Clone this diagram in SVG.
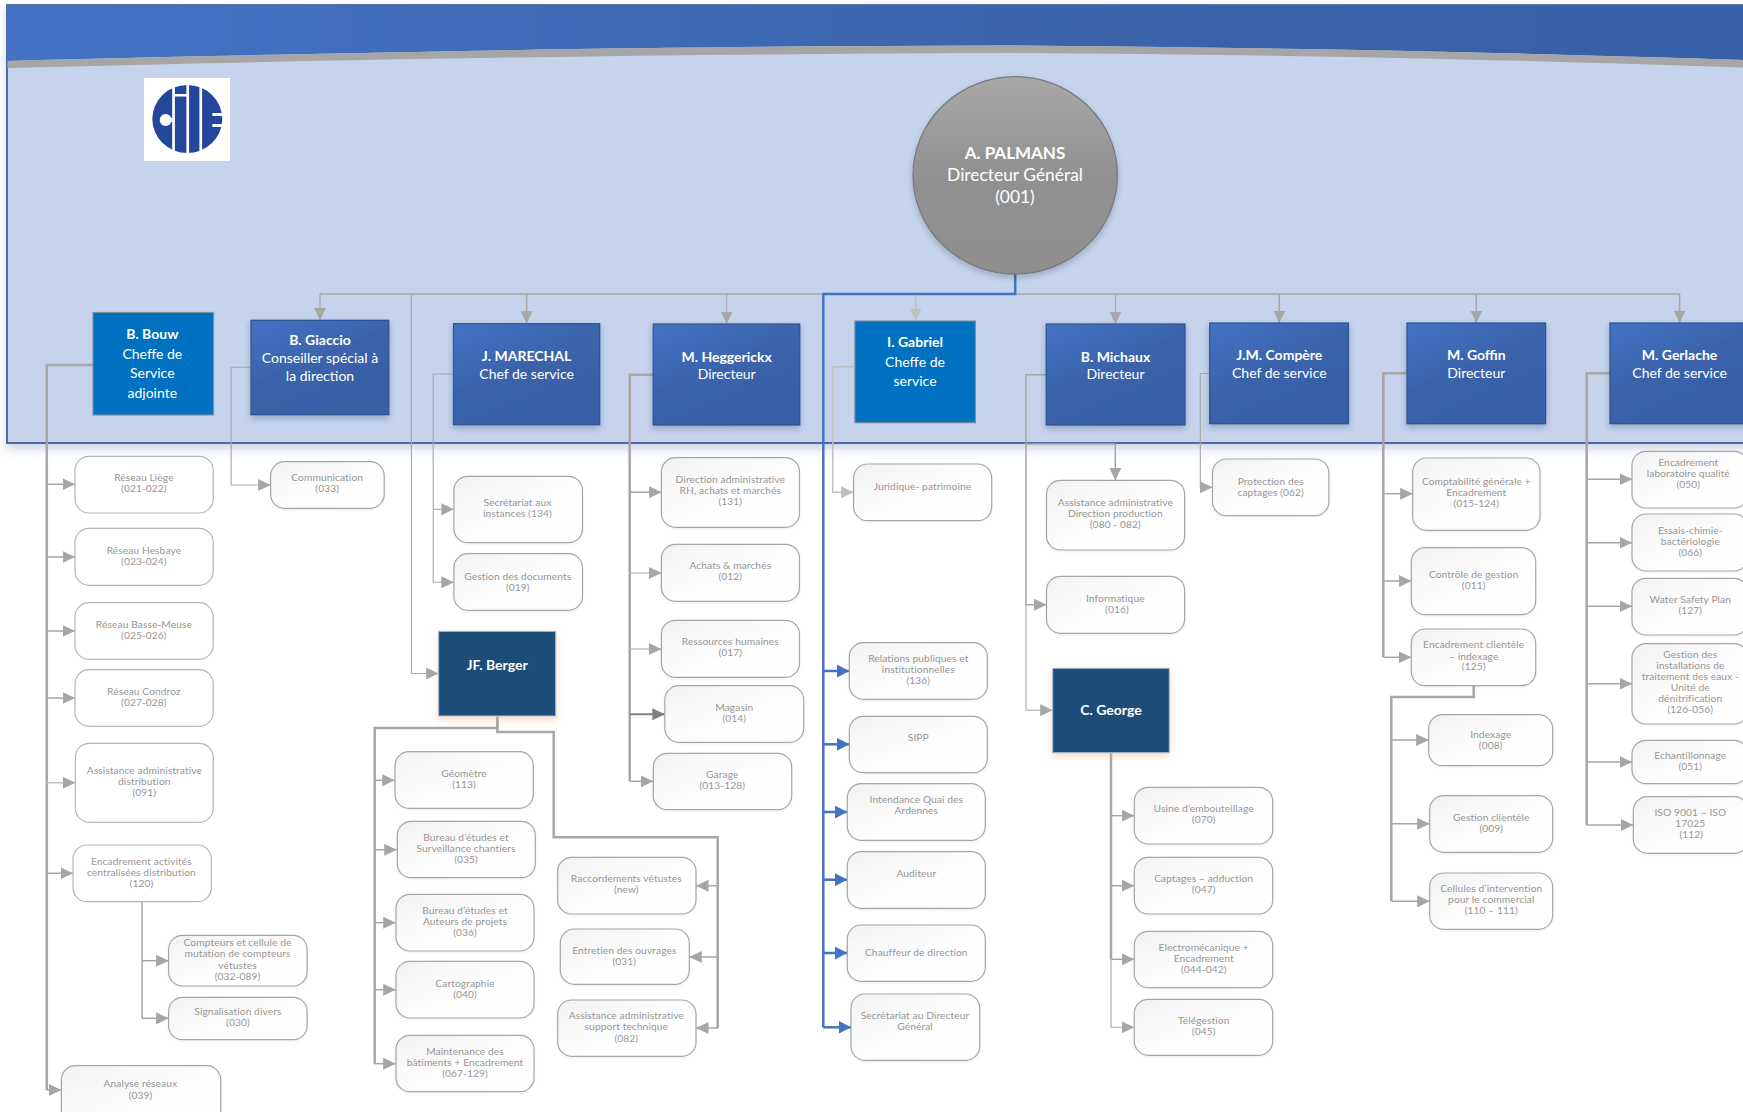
<svg xmlns="http://www.w3.org/2000/svg" width="1743" height="1112" viewBox="0 0 1743 1112">
<style>
text{font-family:"Lato","Liberation Sans",sans-serif;text-anchor:middle;dominant-baseline:central;transform:translateY(-1px)}
.t{font-size:10.2px;fill:#969696;letter-spacing:.1px}
.h{font-size:14px;fill:#fff}
.hb{font-size:14px;fill:#fff;font-weight:700}
.c1{font-size:17.4px;fill:#fff}
.c1b{font-size:17px;fill:#fff;font-weight:700}
.box{fill:url(#gb);stroke:#a6a6a6;stroke-width:1.2;filter:url(#s3)}
.boxw{fill:#fff;stroke:#b5b5b5;stroke-width:1.2}
.dir{fill:url(#gd);stroke:#2f528f;stroke-width:1.2;filter:url(#s1)}
.svc{fill:#0070c0;stroke:#7f8c99;stroke-width:1.2}
.navy{fill:#1f4e79;stroke:#a9bdd2;stroke-width:1;filter:url(#s2)}
#connectors path{fill:none;stroke:#a6a6a6;stroke-width:1.5}
#connectors path.e{marker-end:url(#a)}
#connectors path.th{stroke-width:2.5}
#connectors path.tn{stroke-width:1.1}
#connectors path.l{stroke:#bfbfbf}
#connectors path.el{marker-end:url(#al)}
#connectors path.d{stroke:#7f7f7f;stroke-width:2;marker-end:url(#ad)}
#connectors path.b{stroke:#4472c4;stroke-width:2.5}
#connectors path.eb{marker-end:url(#ab)}
</style>
<defs>
<linearGradient id="gb" x1="0" y1="0" x2="1" y2="1"><stop offset="0" stop-color="#f2f2f2"/><stop offset=".55" stop-color="#fefefe"/><stop offset="1" stop-color="#fff"/></linearGradient>
<linearGradient id="gd" x1="0" y1="0" x2=".6" y2="1"><stop offset="0" stop-color="#4472c4"/><stop offset=".55" stop-color="#3a63aa"/><stop offset="1" stop-color="#3860a6"/></linearGradient>
<linearGradient id="gc" x1="0" y1="0" x2="0" y2="1"><stop offset="0" stop-color="#a8a8a8"/><stop offset=".5" stop-color="#919191"/><stop offset="1" stop-color="#8e8e8e"/></linearGradient>
<linearGradient id="gt" x1="0" y1="0" x2="1" y2="0"><stop offset="0" stop-color="#4472c4"/><stop offset=".65" stop-color="#3a63aa"/><stop offset="1" stop-color="#3860a8"/></linearGradient>
<filter id="s0" x="-5%" y="-5%" width="110%" height="112%"><feDropShadow dx="0" dy="5" stdDeviation="5" flood-color="#2f528f" flood-opacity=".25"/></filter>
<filter id="s1" x="-15%" y="-15%" width="130%" height="135%"><feDropShadow dx="0" dy="3" stdDeviation="3" flood-color="#1f3864" flood-opacity=".3"/></filter>
<filter id="s2" x="-15%" y="-15%" width="130%" height="135%"><feDropShadow dx="0" dy="3" stdDeviation="3" flood-color="#f4b183" flood-opacity=".5"/></filter>
<filter id="s3" x="-5%" y="-5%" width="110%" height="115%"><feDropShadow dx="0" dy="1" stdDeviation="1" flood-color="#000" flood-opacity=".07"/></filter>
<filter id="s4" x="-10%" y="-10%" width="120%" height="120%"><feDropShadow dx="0" dy="3" stdDeviation="3" flood-color="#000" flood-opacity=".2"/></filter>
<marker id="a" markerUnits="userSpaceOnUse" markerWidth="13" markerHeight="12" refX="12.5" refY="6" orient="auto"><path d="M0 0L12.5 6L0 12Z" fill="#a6a6a6"/></marker>
<marker id="al" markerUnits="userSpaceOnUse" markerWidth="13" markerHeight="12" refX="12.5" refY="6" orient="auto"><path d="M0 0L12.5 6L0 12Z" fill="#bfbfbf"/></marker>
<marker id="ad" markerUnits="userSpaceOnUse" markerWidth="13" markerHeight="12" refX="12.5" refY="6" orient="auto"><path d="M0 0L12.5 6L0 12Z" fill="#7f7f7f"/></marker>
<marker id="ab" markerUnits="userSpaceOnUse" markerWidth="13" markerHeight="13" refX="12.5" refY="6.5" orient="auto"><path d="M0 0L12.5 6.5L0 13Z" fill="#4472c4"/></marker>
</defs>
<rect width="1743" height="1112" fill="#fff"/>
<g id="panel">
<rect x="7" y="5" width="1760" height="438" fill="#c5d3ec" stroke="#2f528f" stroke-width="1.6" filter="url(#s0)"/>
<path d="M7.5 5.8H1743V60C1500 52 1250 47 1000 45.5C700 46 400 51 7.5 61Z" fill="url(#gt)"/>
<path d="M7.5 61C400 51 700 46 1000 45.5C1250 47 1500 52 1743 60V67.5C1500 59 1250 54.5 1000 53C700 54 400 58 7.5 68Z" fill="#a6a6a6"/>
</g>
<g id="logo">
<rect x="144" y="78" width="86" height="83" fill="#fff"/>
<ellipse cx="187.3" cy="119" rx="35" ry="34" fill="#25479b"/>
<circle cx="165.7" cy="120" r="6" fill="#fff"/>
<rect x="165.7" y="118" width="7" height="4" fill="#fff"/>
<rect x="172.2" y="84" width="2.7" height="70" fill="#fff"/>
<rect x="186.4" y="84" width="2.7" height="70" fill="#fff"/>
<rect x="199.4" y="84" width="2.7" height="70" fill="#fff"/>
<rect x="174" y="94" width="13" height="2.5" fill="#fff"/>
<rect x="212.4" y="113" width="11" height="3" fill="#fff"/>
<rect x="212.4" y="124" width="11" height="3" fill="#fff"/>
</g>
<g id="connectors">
<path d="M320 294H1680"/>
<path class="e tn" d="M320 294V320.3"/>
<path class="e" d="M526.6 294V323.7"/>
<path class="e tn" d="M726.7 294V324"/>
<path class="l el" d="M915.7 294V321"/>
<path class="e tn" d="M1115.5 294V324"/>
<path class="e" d="M1279.3 294V323"/>
<path class="e" d="M1476.3 294V323"/>
<path class="e" d="M1679.6 294V323"/>
<path class="e tn" d="M411.4 294V673.5H438.6"/>
<path class="th" d="M93 365H46.8V1090"/>
<path class="e" d="M46.8 484.3H75"/><path class="e" d="M46.8 557H75"/><path class="e" d="M46.8 631H75"/><path class="e" d="M46.8 698H75"/>
<path class="e l" d="M46.8 782.7H75.4"/>
<path class="e" d="M46.8 873.3H73"/>
<path class="e" d="M46.8 1090H61.4"/>
<path d="M142.1 901.7V1018.3"/><path class="e" d="M142.1 960.7H168.6"/><path class="e" d="M142.1 1018.3H168.6"/>
<path class="e tn" d="M251 367.3H231.1V485H270.6"/>
<path class="e tn" d="M453.5 374H433.2V582.3H453.9"/><path class="e tn" d="M433.2 509.3H453.9"/>
<path class="th" d="M497.3 716V728H374.7V1063.7"/>
<path class="e" d="M374.7 780.3H394.7"/><path class="e" d="M374.7 849.7H396.7"/><path class="e" d="M374.7 922.7H395.7"/><path class="e" d="M374.7 989.7H395.7"/><path class="e" d="M374.7 1063.7H395.7"/>
<path class="th" d="M497.3 716V732H553.7V837.3H717.7V1028"/>
<path class="e" d="M717.7 885.7H696"/><path class="e" d="M717.7 957H689.3"/><path class="e" d="M717.7 1028H696"/>
<path class="th" d="M653.2 374.7H629.7V781.3"/>
<path class="e" d="M629.7 492.3H661.4"/><path class="e l" d="M629.7 573H661.4"/><path class="e l" d="M629.7 649H661.4"/><path class="d" d="M629.7 714.3H664.8"/><path class="e" d="M629.7 781.3H653.3"/>
<path class="l el" d="M855 366.7H832.7V492.3H853.6"/>
<path d="M1046.2 374.7H1026V444H1115.3"/>
<path class="e" d="M1115.3 444V480.3"/>
<path class="e" d="M1026 444V604.7H1046.5"/>
<path class="e l" d="M1026 604.7V710.3H1052.7"/>
<path class="e tn" d="M1209.7 373.5H1200.3V487.3H1212.5"/>
<path class="th" d="M1111 752.7V959.3"/>
<path class="e" d="M1111 815.7H1134.3"/><path class="e" d="M1111 885.7H1134.3"/><path class="e" d="M1111 959.3H1134.3"/><path class="e tn" d="M1111 959.3V1027.3H1134.3"/>
<path class="th" d="M1407 373.3H1383.3V657.3"/>
<path class="e" d="M1383.3 493.7H1412.7"/><path class="e" d="M1383.3 581H1411.3"/><path class="e" d="M1383.3 657.3H1411.3"/>
<path class="th" d="M1473.7 685.7V697H1391.3V901.3"/>
<path class="e" d="M1391.3 740H1428.7"/><path class="e" d="M1391.3 823.7H1429.7"/><path class="e" d="M1391.3 901.3H1429.7"/>
<path class="th" d="M1610 373.3H1586.7V825"/>
<path class="e" d="M1586.7 479.3H1632"/><path class="e" d="M1586.7 542.7H1632"/><path class="e" d="M1586.7 606.3H1632"/><path class="e" d="M1586.7 683.7H1632"/><path class="e" d="M1586.7 762H1632"/><path class="e" d="M1586.7 825H1633.3"/>
<path class="b" d="M1015.2 274V294H823.3V1027.3"/>
<path class="b eb" d="M823.3 671H849.3"/><path class="b eb" d="M823.3 744.3H849.3"/><path class="b eb" d="M823.3 812H847.3"/><path class="b eb" d="M823.3 879.7H847.3"/><path class="b eb" d="M823.3 953H847.3"/><path class="b eb" d="M823.3 1027.3H851"/>
</g>
<g id="n001"><ellipse cx="1015.2" cy="175.3" rx="102.2" ry="98.7" fill="url(#gc)" stroke="#7a7a7a" stroke-width="1.3" filter="url(#s4)"/><text class="c1b" x="1015" y="153">A. PALMANS</text><text class="c1" x="1015" y="175">Directeur Général</text><text class="c1" x="1015" y="197">(001)</text></g>
<g id="bouw"><rect class="svc" x="93" y="312.5" width="120.5" height="102.5"/><text class="hb" x="152.3" y="334">B. Bouw</text><text class="h" x="152.3" y="354">Cheffe de</text><text class="h" x="152.3" y="373">Service</text><text class="h" x="152.3" y="393">adjointe</text></g>
<g id="giaccio"><rect class="dir" x="251" y="320.3" width="137.8" height="94.4"/><text class="hb" x="320" y="340.5">B. Giaccio</text><text class="h" x="320" y="358.5">Conseiller spécial à</text><text class="h" x="320" y="376.5">la direction</text></g>
<g id="marechal"><rect class="dir" x="453.5" y="323.7" width="146.2" height="101"/><text class="hb" x="526.6" y="356.5">J. MARECHAL</text><text class="h" x="526.6" y="374.5">Chef de service</text></g>
<g id="heggerickx"><rect class="dir" x="653.2" y="324" width="146.6" height="101"/><text class="hb" x="726.7" y="357.5">M. Heggerickx</text><text class="h" x="726.7" y="374.7">Directeur</text></g>
<g id="gabriel"><rect class="svc" x="854.9" y="321" width="120.5" height="101.7"/><text class="hb" x="915" y="342">I. Gabriel</text><text class="h" x="915" y="362">Cheffe de</text><text class="h" x="915" y="381">service</text></g>
<g id="michaux"><rect class="dir" x="1046.2" y="324" width="138.8" height="101"/><text class="hb" x="1115.5" y="357.5">B. Michaux</text><text class="h" x="1115.5" y="374.7">Directeur</text></g>
<g id="compere"><rect class="dir" x="1209.7" y="323" width="138.8" height="100.7"/><text class="hb" x="1279.3" y="355.5">J.M. Compère</text><text class="h" x="1279.3" y="373.5">Chef de service</text></g>
<g id="goffin"><rect class="dir" x="1407" y="323" width="138.6" height="100.7"/><text class="hb" x="1476.3" y="355.5">M. Goffin</text><text class="h" x="1476.3" y="373.5">Directeur</text></g>
<g id="gerlache"><rect class="dir" x="1610" y="323" width="139" height="100.7"/><text class="hb" x="1679.6" y="355.5">M. Gerlache</text><text class="h" x="1679.6" y="373.5">Chef de service</text></g>
<g id="berger"><rect class="navy" x="438.6" y="631.3" width="117.1" height="84.7"/><text class="hb" x="497.1" y="665.3">JF. Berger</text></g>
<g id="george"><rect class="navy" x="1052.7" y="668.3" width="116.6" height="84.4"/><text class="hb" x="1111" y="710.3">C. George</text></g>
<g id="n021"><rect class="boxw" x="75" y="456.3" width="138.2" height="56.7" rx="14"/><text class="t" x="143.9" y="478.3">Réseau Liège</text><text class="t" x="143.9" y="489.3">(021-022)</text></g>
<g id="n023"><rect class="boxw" x="75" y="528.3" width="138.2" height="57" rx="14"/><text class="t" x="143.9" y="551.3">Réseau Hesbaye</text><text class="t" x="143.9" y="562.3">(023-024)</text></g>
<g id="n025"><rect class="boxw" x="75" y="602.7" width="138.2" height="56.6" rx="14"/><text class="t" x="143.9" y="625.3">Réseau Basse-Meuse</text><text class="t" x="143.9" y="636.3">(025-026)</text></g>
<g id="n027"><rect class="boxw" x="75" y="669.7" width="138.2" height="56.6" rx="14"/><text class="t" x="143.9" y="692.3">Réseau Condroz</text><text class="t" x="143.9" y="703.3">(027-028)</text></g>
<g id="n091"><rect class="boxw" x="75.4" y="743.3" width="137.8" height="79" rx="14"/><text class="t" x="144.3" y="771.3">Assistance administrative</text><text class="t" x="144.3" y="782.3">distribution</text><text class="t" x="144.3" y="793.3">(091)</text></g>
<g id="n120"><rect class="boxw" x="73" y="845" width="138.4" height="56.7" rx="14"/><text class="t" x="141.4" y="862.3">Encadrement activités</text><text class="t" x="141.4" y="873.3">centralisées distribution</text><text class="t" x="141.4" y="884.3">(120)</text></g>
<g id="n032"><rect class="box" x="168.6" y="935.3" width="138.5" height="50.7" rx="14"/><text class="t" x="237.5" y="943.3">Compteurs et cellule de</text><text class="t" x="237.5" y="954.3">mutation de compteurs</text><text class="t" x="237.5" y="966.3">vétustes</text><text class="t" x="237.5" y="977.3">(032-089)</text></g>
<g id="n030"><rect class="box" x="168.6" y="997.3" width="138.5" height="42.4" rx="14"/><text class="t" x="237.9" y="1012.3">Signalisation divers</text><text class="t" x="237.9" y="1023.3">(030)</text></g>
<g id="n039"><rect class="box" x="61.4" y="1065.7" width="159.3" height="70" rx="14"/><text class="t" x="140.4" y="1084.3">Analyse réseaux</text><text class="t" x="140.4" y="1096.3">(039)</text></g>
<g id="n033"><rect class="box" x="270.6" y="461.7" width="113.6" height="46.6" rx="14"/><text class="t" x="327.2" y="478.3">Communication</text><text class="t" x="327.2" y="489.3">(033)</text></g>
<g id="n134"><rect class="box" x="453.9" y="476.3" width="128.6" height="66.4" rx="14"/><text class="t" x="517.4" y="503.3">Secrétariat aux</text><text class="t" x="517.4" y="514.3">instances (134)</text></g>
<g id="n019"><rect class="box" x="453.9" y="553.7" width="128.6" height="56.6" rx="14"/><text class="t" x="517.8" y="576.7">Gestion des documents</text><text class="t" x="517.8" y="587.7">(019)</text></g>
<g id="n113"><rect class="box" x="395" y="751.7" width="138.3" height="56.6" rx="14"/><text class="t" x="464" y="774.3">Géomètre</text><text class="t" x="464" y="785.3">(113)</text></g>
<g id="n035"><rect class="box" x="397.3" y="821.3" width="138" height="56.4" rx="14"/><text class="t" x="466" y="838.3">Bureau d’études et</text><text class="t" x="466" y="849.3">Surveillance chantiers</text><text class="t" x="466" y="860.3">(035)</text></g>
<g id="n036"><rect class="box" x="396" y="894.3" width="138" height="56.7" rx="14"/><text class="t" x="465" y="911.3">Bureau d’études et</text><text class="t" x="465" y="922.3">Auteurs de projets</text><text class="t" x="465" y="933.3">(036)</text></g>
<g id="n040"><rect class="box" x="396" y="961.3" width="138" height="56.7" rx="14"/><text class="t" x="465" y="984.3">Cartographie</text><text class="t" x="465" y="995.3">(040)</text></g>
<g id="n067"><rect class="box" x="396" y="1035.3" width="138" height="56.4" rx="14"/><text class="t" x="465" y="1052.3">Maintenance des</text><text class="t" x="465" y="1063.3">bâtiments + Encadrement</text><text class="t" x="465" y="1074.3">(067-129)</text></g>
<g id="nnew"><rect class="box" x="557.7" y="857.3" width="138.3" height="56.7" rx="14"/><text class="t" x="626.3" y="879.3">Raccordements vétustes</text><text class="t" x="626.3" y="890.3">(new)</text></g>
<g id="n031"><rect class="box" x="560.3" y="929" width="129" height="55.3" rx="14"/><text class="t" x="624.3" y="951.3">Entretien des ouvrages</text><text class="t" x="624.3" y="962.3">(031)</text></g>
<g id="n082"><rect class="box" x="557.7" y="1000" width="138.3" height="56.3" rx="14"/><text class="t" x="626.3" y="1016.3">Assistance administrative</text><text class="t" x="626.3" y="1027.3">support technique</text><text class="t" x="626.3" y="1039">(082)</text></g>
<g id="n131"><rect class="box" x="661.4" y="457.7" width="138.1" height="69.6" rx="14"/><text class="t" x="730.3" y="480.3">Direction administrative</text><text class="t" x="730.3" y="491.3">RH, achats et marchés</text><text class="t" x="730.3" y="502.3">(131)</text></g>
<g id="n012"><rect class="box" x="661.4" y="544.3" width="138.1" height="57" rx="14"/><text class="t" x="730.3" y="566.3">Achats &amp; marchés</text><text class="t" x="730.3" y="577.3">(012)</text></g>
<g id="n017"><rect class="box" x="661.4" y="620.3" width="138.1" height="57" rx="14"/><text class="t" x="730.3" y="642.3">Ressources humaines</text><text class="t" x="730.3" y="653.3">(017)</text></g>
<g id="n014"><rect class="box" x="664.8" y="685.7" width="138.9" height="56.6" rx="14"/><text class="t" x="734.3" y="708.3">Magasin</text><text class="t" x="734.3" y="719.3">(014)</text></g>
<g id="n013"><rect class="box" x="653.3" y="753.3" width="138.4" height="56.4" rx="14"/><text class="t" x="722.3" y="775.3">Garage</text><text class="t" x="722.3" y="786.3">(013-128)</text></g>
<g id="njur"><rect class="box" x="853.6" y="464" width="138.1" height="56.7" rx="14"/><text class="t" x="922.5" y="486.7">Juridique- patrimoine</text></g>
<g id="n136"><rect class="box" x="849.3" y="642.7" width="138" height="56.6" rx="14"/><text class="t" x="918.3" y="659.3">Relations publiques et</text><text class="t" x="918.3" y="670.3">institutionnelles</text><text class="t" x="918.3" y="681.3">(136)</text></g>
<g id="nsipp"><rect class="box" x="849.3" y="716.3" width="138" height="56.4" rx="14"/><text class="t" x="918.3" y="738.3">SIPP</text></g>
<g id="nint"><rect class="box" x="847.3" y="783.7" width="138" height="56.6" rx="14"/><text class="t" x="916.3" y="800.3">Intendance Quai des</text><text class="t" x="916.3" y="811.3">Ardennes</text></g>
<g id="naud"><rect class="box" x="847.3" y="851.7" width="138" height="56.6" rx="14"/><text class="t" x="916.3" y="874.3">Auditeur</text></g>
<g id="nchf"><rect class="box" x="847.3" y="925" width="138" height="56.3" rx="14"/><text class="t" x="916.3" y="953.3">Chauffeur de direction</text></g>
<g id="nsec"><rect class="box" x="851" y="994" width="128.7" height="66.3" rx="14"/><text class="t" x="915" y="1016.3">Secrétariat au Directeur</text><text class="t" x="915" y="1027.3">Général</text></g>
<g id="n080"><rect class="box" x="1046.5" y="480.3" width="138.1" height="69.7" rx="14"/><text class="t" x="1115.3" y="503.3">Assistance administrative</text><text class="t" x="1115.3" y="514.3">Direction production</text><text class="t" x="1115.3" y="525.3">(080 - 082)</text></g>
<g id="n016"><rect class="box" x="1046.5" y="576.3" width="138.1" height="57" rx="14"/><text class="t" x="1115.3" y="599.3">Informatique</text><text class="t" x="1116.9" y="610.3">(016)</text></g>
<g id="n062"><rect class="box" x="1212.5" y="459" width="116.4" height="56.7" rx="14"/><text class="t" x="1270.7" y="481.7">Protection des</text><text class="t" x="1270.7" y="492.7">captages (062)</text></g>
<g id="n070"><rect class="box" x="1134.3" y="787.3" width="138.4" height="56.7" rx="14"/><text class="t" x="1203.7" y="809.3">Usine d’embouteillage</text><text class="t" x="1203.7" y="820.3">(070)</text></g>
<g id="n047"><rect class="box" x="1134.3" y="857.3" width="138.4" height="56.7" rx="14"/><text class="t" x="1203.7" y="879.3">Captages – adduction</text><text class="t" x="1203.7" y="890.3">(047)</text></g>
<g id="n044"><rect class="box" x="1134.3" y="931.3" width="138.4" height="56.4" rx="14"/><text class="t" x="1203.7" y="948.3">Electromécanique +</text><text class="t" x="1203.7" y="959.3">Encadrement</text><text class="t" x="1203.7" y="970.3">(044-042)</text></g>
<g id="n045"><rect class="box" x="1134.3" y="999.3" width="138.4" height="56" rx="14"/><text class="t" x="1203.7" y="1021.3">Télégestion</text><text class="t" x="1203.7" y="1032.3">(045)</text></g>
<g id="n015"><rect class="box" x="1412.7" y="458" width="127.3" height="72.3" rx="14"/><text class="t" x="1476.3" y="482.3">Comptabilité générale +</text><text class="t" x="1476.3" y="493.3">Encadrement</text><text class="t" x="1476.3" y="504.3">(015-124)</text></g>
<g id="n011"><rect class="box" x="1411.3" y="547.7" width="124.4" height="67" rx="14"/><text class="t" x="1473.7" y="575.3">Contrôle de gestion</text><text class="t" x="1473.7" y="586.3">(011)</text></g>
<g id="n125"><rect class="box" x="1411.3" y="629" width="124.4" height="56.7" rx="14"/><text class="t" x="1473.7" y="645.3">Encadrement clientèle</text><text class="t" x="1473.7" y="656.5">– indexage</text><text class="t" x="1473.7" y="667.3">(125)</text></g>
<g id="n008"><rect class="box" x="1428.7" y="714.7" width="124" height="51" rx="14"/><text class="t" x="1490.7" y="734.7">Indexage</text><text class="t" x="1490.7" y="745.7">(008)</text></g>
<g id="n009"><rect class="box" x="1429.7" y="795.7" width="123" height="56.6" rx="14"/><text class="t" x="1491.3" y="818.3">Gestion clientèle</text><text class="t" x="1491.3" y="829.3">(009)</text></g>
<g id="n110"><rect class="box" x="1429.7" y="873" width="123" height="56.3" rx="14"/><text class="t" x="1491.3" y="889.3">Cellules d’intervention</text><text class="t" x="1491.3" y="900.3">pour le commercial</text><text class="t" x="1491.3" y="911.3">(110 – 111)</text></g>
<g id="n050"><rect class="box" x="1632" y="451.3" width="116" height="56.7" rx="14"/><text class="t" x="1688.3" y="463.3">Encadrement</text><text class="t" x="1688.3" y="474.3">laboratoire qualité</text><text class="t" x="1688.3" y="485.3">(050)</text></g>
<g id="n066"><rect class="box" x="1632" y="514" width="116" height="57" rx="14"/><text class="t" x="1690.3" y="531.3">Essais-chimie-</text><text class="t" x="1690.3" y="542.3">bactériologie</text><text class="t" x="1690.3" y="553.3">(066)</text></g>
<g id="n127"><rect class="box" x="1632" y="578.3" width="116" height="56.7" rx="14"/><text class="t" x="1690.3" y="600.3">Water Safety Plan</text><text class="t" x="1690.3" y="611.3">(127)</text></g>
<g id="n126"><rect class="box" x="1632" y="643.7" width="116" height="80.3" rx="14"/><text class="t" x="1690.3" y="655.3">Gestion des</text><text class="t" x="1690.3" y="666.3">installations de</text><text class="t" x="1690.3" y="677.3">traitement des eaux -</text><text class="t" x="1690.3" y="688.3">Unité de</text><text class="t" x="1690.3" y="699.3">dénitrification</text><text class="t" x="1690.3" y="710.3">(126-056)</text></g>
<g id="n051"><rect class="box" x="1632" y="740.3" width="116" height="43.4" rx="14"/><text class="t" x="1690.3" y="756.3">Echantillonnage</text><text class="t" x="1690.3" y="767.3">(051)</text></g>
<g id="n112"><rect class="box" x="1633.3" y="796.7" width="115" height="56.6" rx="14"/><text class="t" x="1690.3" y="813.3">ISO 9001 – ISO</text><text class="t" x="1690.3" y="824.3">17025</text><text class="t" x="1691.3" y="835.3">(112)</text></g>
</svg>
